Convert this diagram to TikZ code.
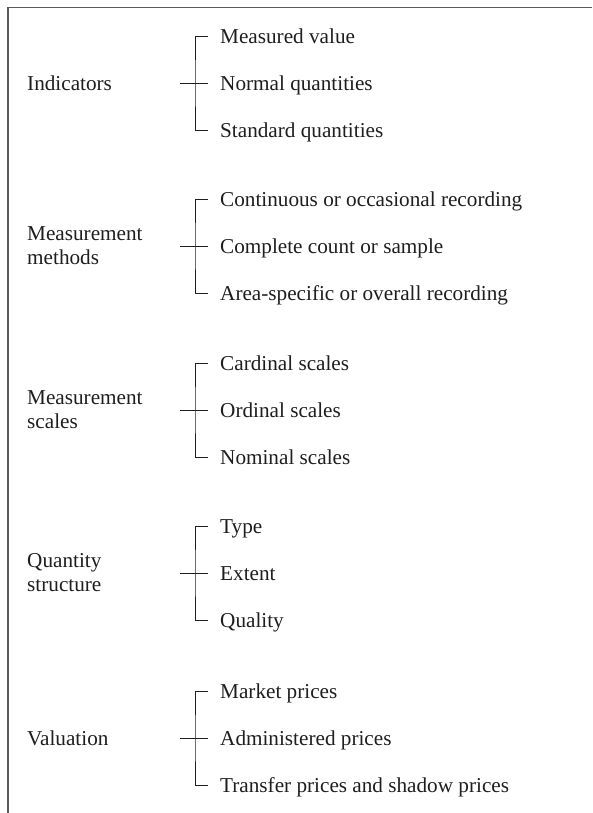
\documentclass[tikz,border=0pt]{standalone}
\usepackage{fontspec}
\setmainfont{Liberation Serif}
\definecolor{framegray}{HTML}{5A5A5A}
\definecolor{ink}{HTML}{1E1E1E}
\begin{document}
\begin{tikzpicture}[x=1pt, y=-1pt,
  txt/.style={font=\fontsize{21.2}{24}\selectfont, text=ink, inner sep=0pt},
  label/.style={txt, anchor=west, align=left},
  item/.style={txt, anchor=west, inner xsep=12pt, text height=15pt, text depth=0pt},
  brace/.style={draw=ink, line width=0.9pt},
  frameline/.style={draw=framegray, line width=1.5pt}]
  \useasboundingbox (0,0) rectangle (592,813);

  % frame: top and left edges only
  \coordinate (ftr) at (592,7.5);
  \coordinate (ftl) at (8,7.5);
  \coordinate (fbl) at (8,813);
  \draw[frameline] (ftr) -- (ftl) -- (fbl);

  % one group: #1 name, #2 centre y, #3 label, #4-#6 items
  \newcommand{\branchgroup}[6]{%
    \node[label] (L#1) at (27,#2) {#3};
    \coordinate (S#1) at (180,#2);
    \coordinate (J#1) at (195,#2);
    \node[item] (I#1a) at (208,#2-47) {#4};
    \node[item] (I#1b) at (208,#2) {#5};
    \node[item] (I#1c) at (208,#2+47) {#6};
    \draw[brace] (I#1a.west) -| (J#1) |- (I#1c.west);
    \draw[brace] (S#1) -- (I#1b.west);
  }

  \branchgroup{1}{83}{Indicators}
    {Measured value}{Normal quantities}{Standard quantities}
  \branchgroup{2}{246}{Measurement\\methods}
    {Continuous or occasional recording}{Complete count or sample}{Area-specific or overall recording}
  \branchgroup{3}{410}{Measurement\\scales}
    {Cardinal scales}{Ordinal scales}{Nominal scales}
  \branchgroup{4}{573}{Quantity\\structure}
    {Type}{Extent}{Quality}
  \branchgroup{5}{738}{Valuation}
    {Market prices}{Administered prices}{Transfer prices and shadow prices}
\end{tikzpicture}
\end{document}
